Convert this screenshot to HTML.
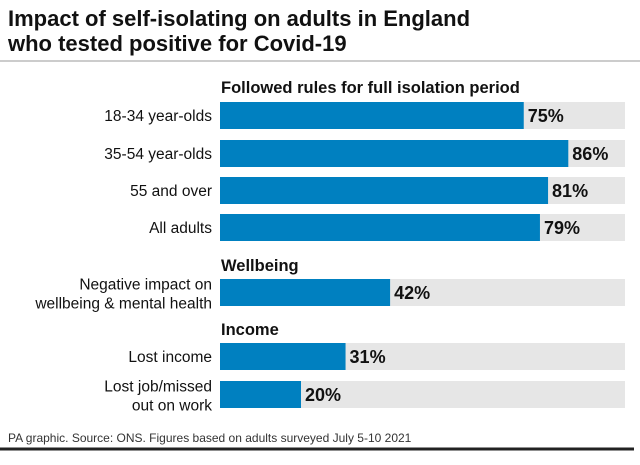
<!DOCTYPE html>
<html><head><meta charset="utf-8"><style>
body{margin:0;background:#fff;font-family:"Liberation Sans",sans-serif;}
svg text{font-family:"Liberation Sans",sans-serif;}
</style></head><body>
<svg width="640" height="460" xmlns="http://www.w3.org/2000/svg">
<text x="8" y="26" font-size="22" font-weight="bold" fill="#111">Impact of self-isolating on adults in England</text>
<text x="8" y="51" font-size="22" font-weight="bold" fill="#111">who tested positive for Covid-19</text>
<line x1="0" y1="61" x2="640" y2="61" stroke="#999" stroke-width="1"/>
<text x="221" y="93" font-size="16.5" font-weight="bold" fill="#111">Followed rules for full isolation period</text>
<text x="221" y="271" font-size="16.5" font-weight="bold" fill="#111">Wellbeing</text>
<text x="221" y="335" font-size="16.5" font-weight="bold" fill="#111">Income</text>
<g id="bars"></g>
<text x="8" y="442" font-size="12" fill="#333">PA graphic. Source: ONS. Figures based on adults surveyed July 5-10 2021</text>
<line x1="0" y1="449" x2="634" y2="449" stroke="#222" stroke-width="3"/>
</svg>
<script>
const categories = [["18-34 year-olds"],["35-54 year-olds"],["55 and over"],["All adults"],["Negative impact on","wellbeing & mental health"],["Lost income"],["Lost job/missed","out on work"]];
const values = [75,86,81,79,42,31,20];
const valueLabels = ["75%","86%","81%","79%","42%","31%","20%"];
const rowTops = [102,140,177,214,279,343,381];
const NS="http://www.w3.org/2000/svg";
const x0=220, x1=625, barH=27;
const xScale=v=>x0+(x1-x0)*v/100;
const g=document.getElementById('bars');
function mk(tag,attrs){const e=document.createElementNS(NS,tag);for(const k in attrs)e.setAttribute(k,attrs[k]);return e;}
values.forEach((v,i)=>{
  const y=rowTops[i];
  const bg=mk('rect',{x:x0,y:y,width:x1-x0,height:barH,fill:'#e6e6e6'});
  
  
  g.appendChild(bg);
  const b=mk('rect',{x:x0,y:y,width:xScale(v)-x0,height:barH,fill:'#0080c0'});
  
  
  g.appendChild(b);
  const t=mk('text',{x:xScale(v)+4,y:y+barH/2+6.5,'font-size':18,'font-weight':'bold',fill:'#111'});
  t.textContent=valueLabels[i];
  
  
  g.appendChild(t);
  const lines=categories[i];
  lines.forEach((ln,j)=>{
    const yy = lines.length===1 ? y+barH/2+5.5 : y+barH/2-3+j*19;
    const c=mk('text',{x:212,y:yy,'font-size':15.5,fill:'#111','text-anchor':'end'});
    c.textContent=ln;
    
    
    g.appendChild(c);
  });
});
</script>
</body></html>
